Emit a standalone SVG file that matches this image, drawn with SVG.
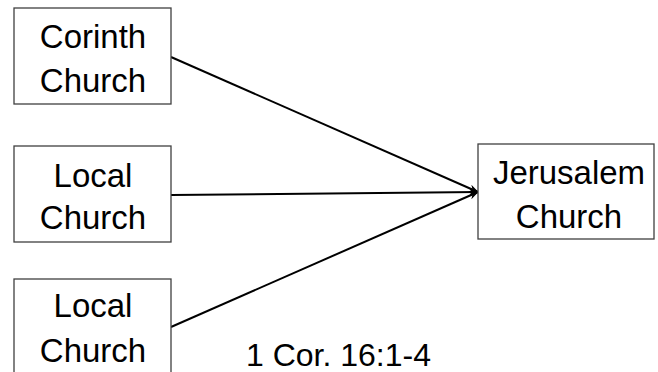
<svg xmlns="http://www.w3.org/2000/svg" width="658" height="372" viewBox="0 0 658 372">
<style>
.box{fill:#fff;stroke:#404040;stroke-width:1.3}
.t{font-family:"Liberation Sans",Arial,sans-serif;font-size:33px;fill:#000;text-anchor:middle}
.ref{font-family:"Liberation Sans",Arial,sans-serif;font-size:32px;fill:#000}
.c{stroke:#000;stroke-width:2;fill:none}
</style>
<defs>
<marker id="ah" markerWidth="10" markerHeight="8" refX="9" refY="4" orient="auto" markerUnits="userSpaceOnUse">
<path d="M0,0 L10,4 L0,8 L3,4 Z" fill="#000"/>
</marker>
</defs>
<rect width="658" height="372" fill="#fff"/>
<g id="connectors">
<line class="c" x1="171" y1="57" x2="478" y2="192" marker-end="url(#ah)"/>
<line class="c" x1="171" y1="195" x2="478" y2="192" marker-end="url(#ah)"/>
<line class="c" x1="171" y1="327" x2="478" y2="192" marker-end="url(#ah)"/>
</g>
<g id="corinth">
<rect class="box" x="14" y="8" width="157" height="96"/>
<text class="t" x="93" y="48">Corinth</text>
<text class="t" x="93" y="92">Church</text>
</g>
<g id="local1">
<rect class="box" x="14" y="146" width="157" height="96"/>
<text class="t" x="93" y="187">Local</text>
<text class="t" x="93" y="229">Church</text>
</g>
<g id="local2">
<rect class="box" x="14" y="279" width="157" height="100"/>
<text class="t" x="93" y="317">Local</text>
<text class="t" x="93" y="362">Church</text>
</g>
<g id="jerusalem">
<rect class="box" x="478" y="144" width="176" height="95"/>
<text class="t" x="569" y="184">Jerusalem</text>
<text class="t" x="569" y="228">Church</text>
</g>
<text class="ref" x="246" y="366">1 Cor. 16:1-4</text>
</svg>
